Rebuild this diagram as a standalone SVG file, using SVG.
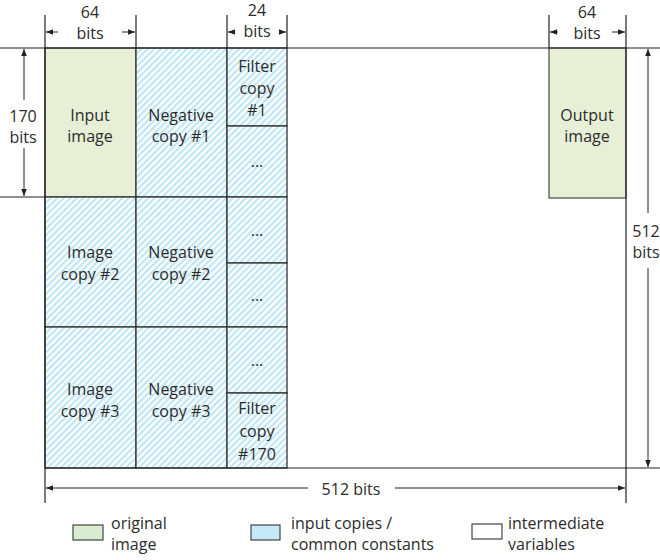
<svg xmlns="http://www.w3.org/2000/svg" width="660" height="560" viewBox="0 0 660 560">
<defs>
<pattern id="hatch" width="4.6" height="4.6" patternUnits="userSpaceOnUse" patternTransform="rotate(45)">
<rect width="4.6" height="4.6" fill="#ffffff"/>
<rect width="2.2" height="4.6" fill="#bfe6f6"/>
</pattern>
<marker id="ah" viewBox="0 0 10 10" refX="10" refY="5" markerWidth="7" markerHeight="7" markerUnits="userSpaceOnUse" orient="auto-start-reverse">
<path d="M0,1 L10,5 L0,9 Z" fill="#222"/>
</marker>
</defs>
<style>
text{font-family:"Open Sans","Liberation Sans",sans-serif;font-size:16px;fill:#2b2b2b;text-anchor:middle}
.lg text{text-anchor:start}
.cell{stroke:#333;stroke-width:1.3}
.hat{fill:url(#hatch)}
.grn{fill:#e7f0d6}
.ln{stroke:#222;stroke-width:1.2;fill:none}
.dim{stroke:#222;stroke-width:1;fill:none}
</style>
<rect width="660" height="560" fill="#ffffff"/>

<g id="input-image"><rect class="cell grn" x="45" y="48" width="91" height="149"/><text x="90" y="121">Input</text><text x="90" y="142">image</text></g>
<g id="negative-copy-1"><rect class="cell hat" x="136" y="48" width="91" height="149"/><text x="181" y="121">Negative</text><text x="181" y="142">copy #1</text></g>
<g id="filter-copy-1"><rect class="cell hat" x="227" y="48" width="60" height="78"/><text x="257" y="72">Filter</text><text x="257" y="94">copy</text><text x="257" y="116">#1</text></g>
<g id="filter-dots-1"><rect class="cell hat" x="227" y="126" width="60" height="71"/><text x="257" y="167">...</text></g>
<g id="image-copy-2"><rect class="cell hat" x="45" y="197" width="91" height="130"/><text x="90" y="258">Image</text><text x="90" y="280">copy #2</text></g>
<g id="negative-copy-2"><rect class="cell hat" x="136" y="197" width="91" height="130"/><text x="181" y="258">Negative</text><text x="181" y="280">copy #2</text></g>
<g id="filter-dots-2"><rect class="cell hat" x="227" y="197" width="60" height="66"/><text x="257" y="236">...</text></g>
<g id="filter-dots-3"><rect class="cell hat" x="227" y="263" width="60" height="64"/><text x="257" y="301">...</text></g>
<g id="image-copy-3"><rect class="cell hat" x="45" y="327" width="91" height="141"/><text x="90" y="395">Image</text><text x="90" y="417">copy #3</text></g>
<g id="negative-copy-3"><rect class="cell hat" x="136" y="327" width="91" height="141"/><text x="181" y="395">Negative</text><text x="181" y="417">copy #3</text></g>
<g id="filter-dots-4"><rect class="cell hat" x="227" y="327" width="60" height="66"/><text x="257" y="366">...</text></g>
<g id="filter-copy-170"><rect class="cell hat" x="227" y="393" width="60" height="75"/><text x="257" y="414">Filter</text><text x="257" y="437">copy</text><text x="257" y="460">#170</text></g>
<g id="output-image"><rect x="549" y="48" width="77" height="150" fill="#e7f0d6" stroke="#555" stroke-width="1.3"/><text x="587" y="121">Output</text><text x="587" y="142">image</text></g>

<g id="connectors">
<line class="ln" x1="0" y1="48" x2="660" y2="48"/>
<line class="ln" x1="0" y1="197" x2="45" y2="197"/>
<line class="ln" x1="45" y1="468" x2="660" y2="468"/>
<line class="ln" x1="45" y1="15" x2="45" y2="503"/>
<line class="ln" x1="136" y1="15" x2="136" y2="48"/>
<line class="ln" x1="227" y1="15" x2="227" y2="48"/>
<line class="ln" x1="287" y1="15" x2="287" y2="48"/>
<line class="ln" x1="549" y1="15" x2="549" y2="48"/>
<line class="ln" x1="626" y1="15" x2="626" y2="503"/>
<line class="dim" x1="58" y1="32" x2="46" y2="32" marker-end="url(#ah)"/>
<line class="dim" x1="122" y1="32" x2="135" y2="32" marker-end="url(#ah)"/>
<line class="dim" x1="232" y1="32" x2="228" y2="32" marker-end="url(#ah)"/>
<line class="dim" x1="282" y1="32" x2="286" y2="32" marker-end="url(#ah)"/>
<line class="dim" x1="558" y1="32" x2="550" y2="32" marker-end="url(#ah)"/>
<line class="dim" x1="612" y1="32" x2="625" y2="32" marker-end="url(#ah)"/>
<line class="dim" x1="24" y1="100" x2="24" y2="49" marker-end="url(#ah)"/>
<line class="dim" x1="24" y1="148" x2="24" y2="196" marker-end="url(#ah)"/>
<line class="dim" x1="648" y1="213" x2="648" y2="49" marker-end="url(#ah)"/>
<line class="dim" x1="648" y1="268" x2="648" y2="467" marker-end="url(#ah)"/>
<line class="dim" x1="308" y1="488" x2="46" y2="488" marker-end="url(#ah)"/>
<line class="dim" x1="395" y1="488" x2="625" y2="488" marker-end="url(#ah)"/>
</g>

<g id="dimension-labels">
<text x="90" y="18">64</text><text x="90" y="39">bits</text>
<text x="257" y="16">24</text><text x="257" y="37">bits</text>
<text x="587" y="18">64</text><text x="587" y="39">bits</text>
<text x="23" y="122">170</text><text x="23" y="143">bits</text>
<text x="646" y="237">512</text><text x="646" y="258">bits</text>
<text x="351" y="495">512 bits</text>
</g>

<g id="legend" class="lg">
<g id="legend-original"><rect x="73" y="525" width="30" height="15" fill="#d9ecd2" stroke="#444" stroke-width="1.2"/><text x="111" y="529">original</text><text x="111" y="550">image</text></g>
<g id="legend-copies"><rect x="251" y="525" width="29" height="15" fill="#c4eafa" stroke="#444" stroke-width="1.2"/><text x="291" y="529">input copies /</text><text x="291" y="550">common constants</text></g>
<g id="legend-intermediate"><rect x="472" y="524" width="30" height="15" fill="#ffffff" stroke="#444" stroke-width="1.2"/><text x="508" y="529">intermediate</text><text x="508" y="550">variables</text></g>
</g>
</svg>
